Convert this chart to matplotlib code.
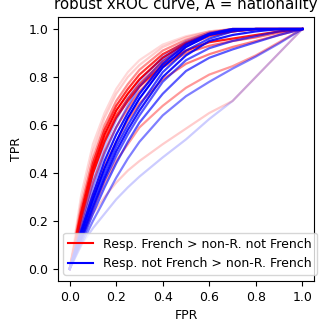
import matplotlib
matplotlib.use('Agg')
import matplotlib.pyplot as plt

plt.rcParams['font.size'] = 9

# shared FPR grid for all curves
fpr = [0, 0.05, 0.1, 0.15, 0.2, 0.25, 0.3, 0.4, 0.5, 0.6, 0.7, 0.8, 0.9, 1.0]

# TPR per curve, "Resp. French > non-R. not French"
red_tpr = [
    [0, .31, .52, .65, .75, .82, .87, .935, .97, .99, 1, 1, 1, 1],
    [0, .28, .49, .63, .73, .80, .85, .925, .965, .99, 1, 1, 1, 1],
    [0, .26, .46, .60, .70, .77, .83, .91, .955, .985, 1, 1, 1, 1],
    [0, .24, .44, .58, .68, .75, .81, .895, .945, .98, .995, 1, 1, 1],
    [0, .23, .42, .56, .66, .73, .79, .88, .94, .975, .99, 1, 1, 1],
    [0, .21, .40, .54, .64, .71, .77, .865, .93, .97, .99, 1, 1, 1],
    [0, .22, .40, .53, .63, .70, .76, .85, .91, .945, .96, .975, .99, 1],
    [0, .19, .36, .49, .59, .67, .74, .84, .90, .93, .95, .965, .985, 1],
    [0, .16, .31, .43, .53, .62, .69, .79, .855, .895, .925, .95, .975, 1],
    [0, .13, .25, .36, .45, .52, .59, .68, .755, .81, .845, .89, .945, 1],
    [0, .13, .23, .30, .36, .41, .45, .52, .585, .65, .70, .80, .90, 1],
]
red_alpha = [0.15, 0.2, 0.45, 0.8, 1.0, 0.7, 0.9, 0.55, 0.5, 0.4, 0.2]

# TPR per curve, "Resp. not French > non-R. French"
blue_tpr = [
    [0, .19, .37, .51, .62, .71, .78, .885, .95, .985, 1, 1, 1, 1],
    [0, .17, .34, .48, .59, .68, .76, .87, .94, .98, 1, 1, 1, 1],
    [0, .16, .31, .45, .56, .65, .73, .855, .935, .98, 1, 1, 1, 1],
    [0, .15, .29, .42, .53, .63, .71, .84, .925, .975, .995, 1, 1, 1],
    [0, .14, .28, .40, .51, .60, .68, .82, .91, .96, .99, 1, 1, 1],
    [0, .13, .26, .38, .49, .58, .66, .80, .89, .95, .975, .99, 1, 1],
    [0, .12, .25, .37, .47, .56, .64, .78, .87, .92, .95, .97, .99, 1],
    [0, .11, .23, .34, .44, .53, .61, .73, .825, .88, .915, .945, .975, 1],
    [0, .10, .20, .29, .38, .46, .53, .64, .72, .78, .835, .885, .94, 1],
    [0, .10, .17, .23, .29, .34, .385, .465, .54, .625, .70, .80, .90, 1],
]
blue_alpha = [0.25, 0.45, 0.9, 1.0, 0.75, 0.9, 0.65, 0.65, 0.5, 0.2]

fig = plt.figure(figsize=(3.32, 3.32), dpi=100)
ax = fig.add_axes([58 / 332, 51 / 332, 256 / 332, 264 / 332])

for tpr, a in zip(red_tpr, red_alpha):
    ax.plot(fpr, tpr, color='red', alpha=a, lw=1.6)
for tpr, a in zip(blue_tpr, blue_alpha):
    ax.plot(fpr, tpr, color='blue', alpha=a, lw=1.6)

# legend handles at full colour
ax.plot([], [], color='red', label='Resp. French > non-R. not French')
ax.plot([], [], color='blue', label='Resp. not French > non-R. French')
ax.legend(loc='lower right', bbox_to_anchor=(1.012, 0.023), borderaxespad=0)

ax.set_xlabel('FPR')
ax.set_ylabel('TPR')
ax.set_title('robust xROC curve, A = nationality')

fig.savefig('out.png', dpi=100)
